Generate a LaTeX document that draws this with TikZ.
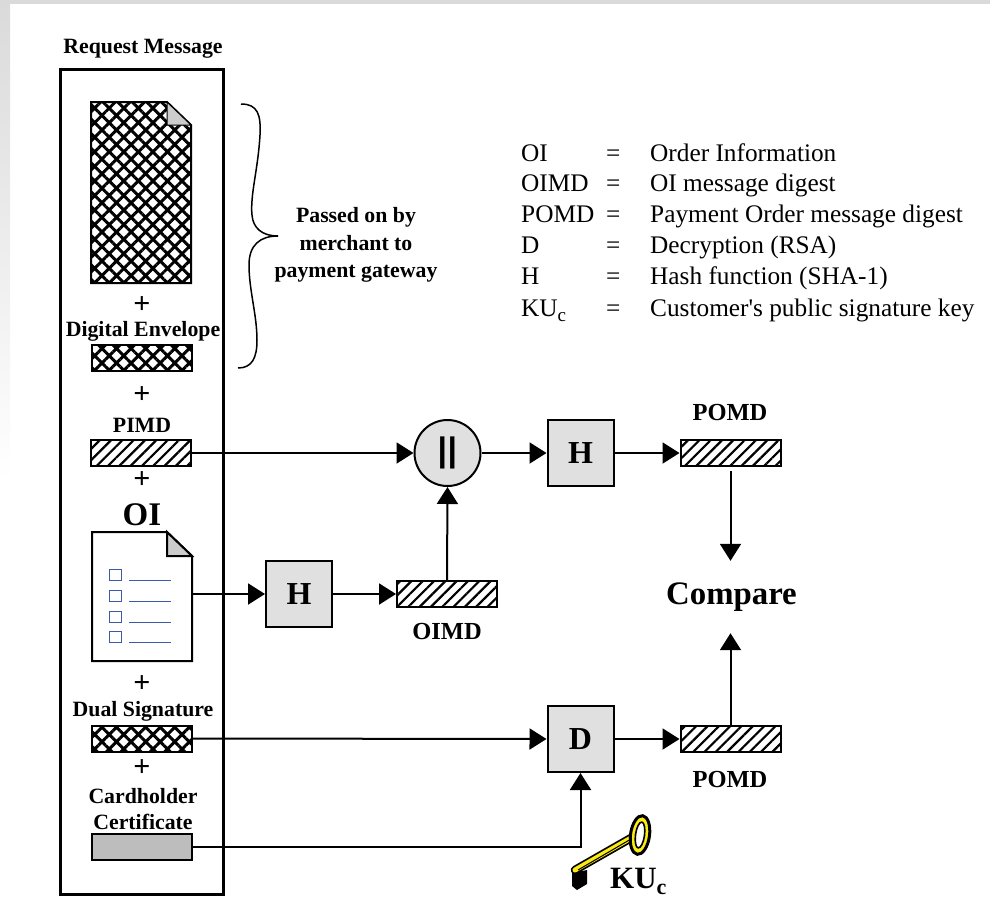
\documentclass[tikz,border=0pt]{standalone}
\usepackage{fontspec}
\setmainfont{Liberation Serif}[Ligatures=TeXOff]
\setsansfont{Liberation Sans}
\usetikzlibrary{arrows.meta,patterns.meta}
\definecolor{boxgray}{RGB}{224,224,224}
\definecolor{foldgray}{RGB}{204,204,204}
\definecolor{certgray}{RGB}{189,189,189}
\definecolor{edgegray}{RGB}{218,218,218}
\definecolor{listblue}{RGB}{60,90,170}
\definecolor{keyyellow}{RGB}{250,235,20}
\newcommand{\subc}[2]{\raisebox{#2}{\fontsize{#1}{#1}\selectfont c}}
\tikzset{
  reqlabel/.style={font=\fontsize{21.8}{24}\selectfont\bfseries,inner sep=0pt},
  digestlabel/.style={font=\fontsize{24.5}{26}\selectfont\bfseries,inner sep=0pt},
  pluslabel/.style={font=\fontsize{30}{30}\selectfont\bfseries,inner sep=0pt},
  legendtext/.style={font=\fontsize{25.3}{28}\selectfont,anchor=base west,inner sep=0pt},
  bar/.style={draw=black,line width=2pt,minimum width=100pt,minimum height=26pt,inner sep=0pt},
  crossbar/.style={bar,pattern={Hatch[angle=45,distance=10.3pt,line width=3pt]}},
  slashbar/.style={bar,pattern={Lines[angle=45,distance=8pt,line width=2.2pt]}},
  opbox/.style={
    draw=black,
    fill=boxgray,
    line width=2pt,
    minimum size=66pt,
    inner sep=0pt,
    font=\fontsize{32}{32}\selectfont\bfseries
  },
  link/.style={line width=2pt,-{Triangle[length=17pt,width=21pt]}},
  listbox/.style={draw=listblue,line width=1.2pt}
}
\begin{document}
\begin{tikzpicture}[x=1pt,y=-1pt]
  \useasboundingbox (0,0) rectangle (990,902);
  \fill[edgegray] (0,0) rectangle (990,4);
  \shade[top color=edgegray,bottom color=white] (0,0) rectangle (10,480);

  \node[reqlabel] (reqtitle) at (143,49) {Request Message};
  \node[
    draw=black,
    line width=3pt,
    minimum width=163pt,
    minimum height=825pt,
    inner sep=0pt
  ] (reqbox) at (141.5,481.5) {};

  \draw[line width=2pt,pattern={Hatch[angle=45,distance=10.3pt,line width=3pt]}]
    (91,102) -- (167,102) -- (191,125) -- (191,283) -- (91,283) -- cycle;
  \filldraw[line width=1pt,fill=foldgray] (167,102) -- (191,125) -- (167,125) -- cycle;
  \node[pluslabel] (plusa) at (142,305) {+};
  \node[reqlabel] (envlabel) at (143,331) {Digital Envelope};
  \node[crossbar] (envbar) at (142,357.5) {};
  \node[pluslabel] (plusb) at (142,395) {+};
  \node[reqlabel] (pimdlabel) at (142,425) {PIMD};
  \node[slashbar] (pimdbar) at (141,453) {};
  \node[pluslabel] (plusc) at (142,480) {+};
  \node[font=\fontsize{33}{33}\selectfont\bfseries,inner sep=0pt] (oilabel) at (142,515) {OI};

  \node[minimum width=100pt,minimum height=129pt,inner sep=0pt] (oidoc) at (142,596.5) {};
  \draw[line width=2pt,fill=white]
    (92,532) -- (167,532) -- (192,556) -- (192,661) -- (92,661) -- cycle;
  \filldraw[line width=2pt,fill=foldgray] (167,532) -- (192,556) -- (167,556) -- cycle;
  \foreach \rowy in {569,590,611,631} {
    \draw[listbox] (109.5,\rowy+0.5) rectangle (121.5,\rowy+11.5);
    \draw[listbox] (129,\rowy+11.5) -- (171,\rowy+11.5);
  }

  \node[pluslabel] (plusd) at (142,684) {+};
  \node[reqlabel] (duallabel) at (143,711) {Dual Signature};
  \node[crossbar] (dualbar) at (142,738.5) {};
  \node[pluslabel] (pluse) at (142,768) {+};
  \node[reqlabel] (cardlabel) at (143,796) {Cardholder};
  \node[reqlabel] (certlabel) at (143,822) {Certificate};
  \node[bar,fill=certgray] (certbar) at (142,847) {};

  \draw[line width=1.5pt] (241,104) .. controls (258,104) and (261,115) .. (260,135)
    .. controls (258,170) and (250,195) .. (252,215)
    .. controls (253,228) and (262,236) .. (278,236);
  \draw[line width=1.5pt] (278,236) .. controls (260,236) and (249,245) .. (249,265)
    .. controls (249,290) and (257,315) .. (257,340)
    .. controls (257,358) and (252,368) .. (238,368);
  \node[
    align=center,
    font=\fontsize{21.8}{27.5}\selectfont\bfseries,
    inner sep=0pt
  ] (passlabel) at (356,245) {Passed on by\\merchant to\\payment gateway};

  \foreach \rowname/\rowy/\rowkey/\rowtext in {
    a/161/OI/Order Information,
    b/191.5/OIMD/OI message digest,
    c/222/POMD/Payment Order message digest,
    d/253/D/Decryption (RSA),
    e/284/H/Hash function (SHA-1),
    f/316/KU\subc{19}{-5pt}/Customer's public signature key} {
    \node[legendtext] (key\rowname) at (521,\rowy) {\rowkey};
    \node[legendtext] (eq\rowname) at (606,\rowy) {=};
    \node[legendtext] (val\rowname) at (650,\rowy) {\rowtext};
  }

  \node[
    draw=black,
    fill=boxgray,
    circle,
    line width=2pt,
    minimum size=66pt,
    inner sep=0pt,
    font=\fontsize{34}{34}\selectfont\sffamily\bfseries
  ] (concat) at (447.5,453) {|\kern0.5pt|};
  \node[opbox] (hashpomd) at (580.5,453) {H};
  \node[slashbar] (pomdtop) at (730.5,453) {};
  \node[digestlabel] (pomdtoplabel) at (730,413) {POMD};
  \node[opbox] (hashoi) at (299,594) {H};
  \node[slashbar] (oimd) at (447,594) {};
  \node[digestlabel] (oimdlabel) at (447,632) {OIMD};
  \node[
    minimum height=72pt,
    inner sep=0pt,
    font=\fontsize{32.8}{34}\selectfont\bfseries
  ] (compare) at (731.5,597) {\raisebox{-3pt}{Compare}};
  \node[opbox] (decrypt) at (580.5,739) {D};
  \node[slashbar] (pomdlow) at (730.5,739) {};
  \node[digestlabel] (pomdlowlabel) at (730,779) {POMD};

  \draw[link] (pimdbar.east) -- (concat.west);
  \draw[link] (concat.east) -- (hashpomd.west);
  \draw[link] (hashpomd.east) -- (pomdtop.west);
  \draw[link,shorten <=4pt] (pomdtop.south) -- (compare.north -| pomdtop.south);
  \draw[link] (oidoc.east |- hashoi.west) -- (hashoi.west);
  \draw[link] (hashoi.east) -- (oimd.west);
  \draw[link] (oimd.north) -- (concat.south);
  \draw[link] (dualbar.east) -- (decrypt.west);
  \draw[link] (decrypt.east) -- (pomdlow.west);
  \draw[link] (pomdlow.north) -- (compare.south -| pomdlow.north);
  \draw[link] (certbar.east) -| (decrypt.south);

  \fill[black] (572,873) -- (587,870) -- (587,884) -- (577,890) -- (572,886) -- cycle;
  \draw[line width=8.5pt,line cap=round] (575,870) -- (631,838);
  \draw[line width=5pt,keyyellow,line cap=round] (575,870) -- (631,838);
  \draw[line width=1pt] (578,870) -- (631,839);
  \draw[line width=3pt,fill=keyyellow,rotate around={-8:(640,835)}] (640,835) ellipse (9.5pt and 19.5pt);
  \draw[line width=1.6pt,fill=white,rotate around={-8:(640,835)}] (640,835) ellipse (4.5pt and 13pt);

  \node[font=\fontsize{31}{32}\selectfont\bfseries,inner sep=0pt,anchor=base west] (kulabel) at (610,888) {KU\subc{22}{-6pt}};
\end{tikzpicture}
\end{document}
